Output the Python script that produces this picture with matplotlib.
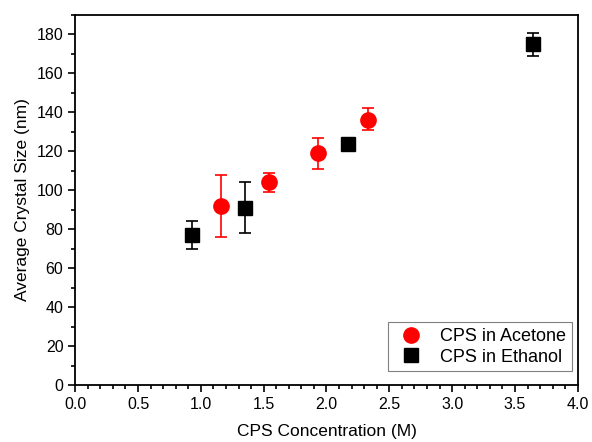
import matplotlib
matplotlib.use('Agg')
import matplotlib.pyplot as plt
from matplotlib.ticker import MultipleLocator

plt.rcParams['font.family'] = ['Liberation Sans', 'DejaVu Sans']

# CPS in Acetone
acetone_x = [1.16, 1.54, 1.93, 2.33]
acetone_y = [92, 104, 119, 136]
acetone_lo = [76, 99, 111, 131]
acetone_hi = [108, 109, 127, 142]

# CPS in Ethanol
ethanol_x = [0.93, 1.35, 2.17, 3.64]
ethanol_y = [77, 91, 124, 175]
ethanol_lo = [70, 78, 124, 169]
ethanol_hi = [84, 104, 124, 181]

fig = plt.figure(figsize=(5.92, 4.42), dpi=100)
ax = fig.add_axes([0.127, 0.129, 0.849, 0.837])

ac_err = [[y - lo for y, lo in zip(acetone_y, acetone_lo)],
          [hi - y for y, hi in zip(acetone_y, acetone_hi)]]
et_err = [[y - lo for y, lo in zip(ethanol_y, ethanol_lo)],
          [hi - y for y, hi in zip(ethanol_y, ethanol_hi)]]

ax.errorbar(acetone_x, acetone_y, yerr=ac_err, fmt='o', color='red', ms=11,
            ecolor='red', elinewidth=1.2, capsize=4.5, capthick=1.2,
            label='CPS in Acetone', zorder=3)
ax.errorbar(ethanol_x, ethanol_y, yerr=et_err, fmt='s', color='black', ms=10,
            ecolor='black', elinewidth=1.2, capsize=4.5, capthick=1.2,
            label='CPS in Ethanol', zorder=3)

ax.set_xlim(0, 4.0)
ax.set_ylim(0, 190)
ax.xaxis.set_major_locator(MultipleLocator(0.5))
ax.xaxis.set_minor_locator(MultipleLocator(0.1))
ax.yaxis.set_major_locator(MultipleLocator(20))
ax.yaxis.set_minor_locator(MultipleLocator(10))
ax.tick_params(which='both', direction='out', top=False, right=False,
               labelsize=11.5, width=1.2)
ax.tick_params(which='major', length=5)
ax.tick_params(which='minor', length=3)
for s in ax.spines.values():
    s.set_linewidth(1.3)

ax.set_xlabel('CPS Concentration (M)', fontsize=12.5, labelpad=9)
ax.set_ylabel('Average Crystal Size (nm)', fontsize=12.5, labelpad=5)

handles, labels = ax.get_legend_handles_labels()
handles = [h[0] for h in handles]
leg = ax.legend(handles, labels, loc='lower right', bbox_to_anchor=(0.988, 0.038),
                fontsize=13, fancybox=False, borderaxespad=0,
                edgecolor='gray', framealpha=1, handletextpad=0.6,
                labelspacing=0.2, borderpad=0.3)
leg.get_frame().set_linewidth(0.8)

fig.savefig('out.png', dpi=100)
